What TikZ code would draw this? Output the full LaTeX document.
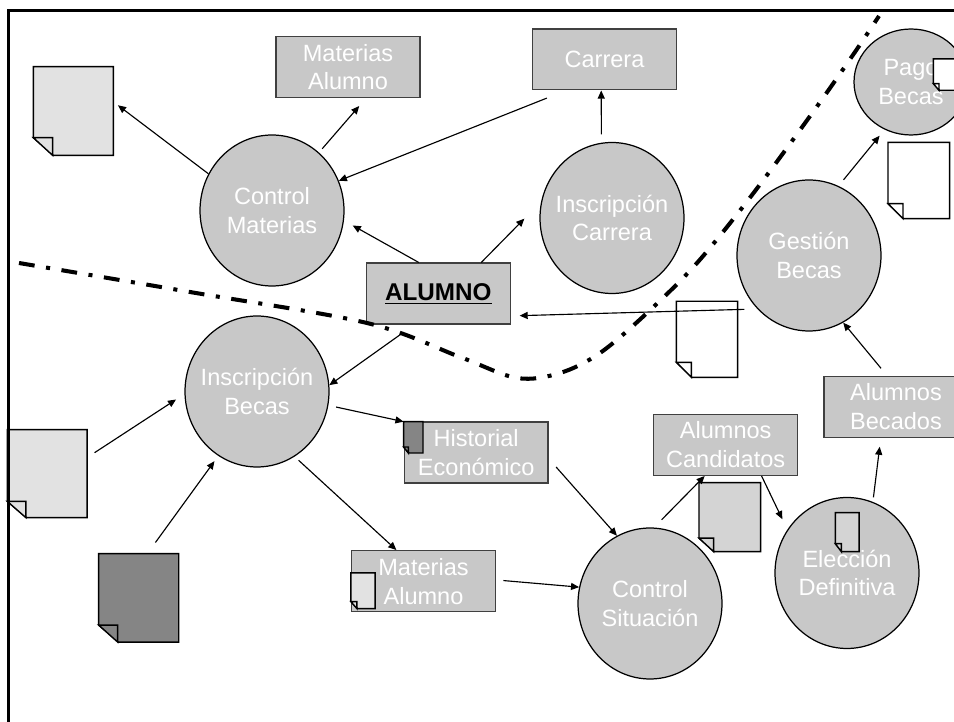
\documentclass[tikz,border=0pt]{standalone}
\usepackage{fontspec}
\setmainfont{Liberation Sans}
\usetikzlibrary{shapes.geometric,arrows.meta}
\definecolor{gris}{HTML}{C8C8C8}
\definecolor{grisclaro}{HTML}{E2E2E2}
\definecolor{grismedio}{HTML}{D4D4D4}
\definecolor{grisoscuro}{HTML}{858585}
\tikzset{
  proceso/.style={ellipse,draw=black,fill=gris,line width=0.7pt,inner sep=-8pt,minimum width=2.88cm,minimum height=3.02cm,text=white,align=center,font=\fontsize{13.4}{16.4}\selectfont},
  almacen/.style={rectangle,draw=black!75,fill=gris,line width=0.8pt,inner sep=0pt,minimum width=2.88cm,minimum height=1.22cm,text=white,align=center,font=\fontsize{13.4}{16.4}\selectfont},
  flujo/.style={-{Triangle[length=4.6pt,width=4pt]},line width=0.65pt},
  frontera/.style={line width=2.3pt,dash pattern=on 9pt off 6.6pt on 2.3pt off 6.6pt}
}
% Hoja con esquina doblada: nombre, centro, ancho, alto, doblez x, doblez y, color
\newcommand{\hoja}[7]{
  \node[inner sep=0pt,minimum width=#3*0.02cm,minimum height=#4*0.02cm] (#1) at (#2) {};
  \draw[line width=0.8pt,fill=#7] (#1.north west) -- (#1.north east) -- (#1.south east) -- ++({#5-#3},0) -- ([yshift=#6*0.02cm]#1.south west) -- cycle;
  \draw[line width=0.8pt,fill=#7] ([yshift=#6*0.02cm]#1.south west) -- ++(#5,0) -- ++(0,#6) -- cycle;
}
\begin{document}
\begin{tikzpicture}[x=0.02cm,y=-0.02cm]
  \clip (0,0) rectangle (954,722);

  % Procesos
  \node[proceso] (ctrlmat) at (272,210.5) {Control\\Materias};
  \node[proceso] (inscar) at (612,218) {Inscripción\\Carrera};
  \node[proceso] (gestion) at (809,255.5) {Gestión\\Becas};
  \node[proceso,minimum width=2.28cm,minimum height=2.12cm] (pago) at (911,82) {Pago\\Becas};
  \node[proceso] (insbec) at (257,391.5) {Inscripción\\Becas};
  \node[proceso] (ctrlsit) at (650,603.5) {Control\\Situación};
  \node[proceso] (eleccion) at (847,573) {Elección\\Definitiva};

  % Almacenes
  \node[almacen] (matalu) at (348,67) {Materias\\Alumno};
  \node[almacen] (carrera) at (604.5,59.3) {Carrera};
  \node[almacen,text=black,font=\fontsize{13.8}{16.4}\selectfont\bfseries] (alumno) at (438.3,293.7) {\underline{ALUMNO}};
  \node[almacen] (historial) at (476.2,452.5) {Historial\\Económico};
  \node[almacen] (matalub) at (423.5,581.2) {Materias\\Alumno};
  \node[almacen] (candidatos) at (725.7,444.8) {Alumnos\\Candidatos};
  \node[almacen] (becados) at (896,406.8) {Alumnos\\Becados};

  % Hojas
  \hoja{hojaa}{73.3,111}{79.3}{88}{19.3}{17.7}{grisclaro}
  \hoja{hojab}{47.2,473.7}{79}{87.3}{18.6}{16.3}{grisclaro}
  \hoja{hojac}{138.7,597.9}{79.3}{87.7}{19}{17}{grisoscuro}
  \hoja{hojad}{918.8,180.5}{61}{75.6}{15}{15}{white}
  \hoja{hojae}{707,339.3}{60.6}{75.3}{15}{15}{white}
  \hoja{hojaf}{947,74.6}{26.6}{30.7}{5.6}{6.7}{white}
  \hoja{hojag}{413.3,437.3}{18.7}{30.7}{4.7}{6}{grisoscuro}
  \hoja{hojah}{363,590.8}{23.4}{35}{6}{7}{grisclaro}
  \hoja{hojai}{729.8,517.2}{61}{68.3}{14.7}{13.6}{grismedio}
  \hoja{hojaj}{847.2,532.2}{23}{38.3}{6}{8}{grismedio}

  % Frontera
  \draw[frontera] plot[smooth,tension=0.55] coordinates {(19,263) (190,292) (367,323) (460,357) (517,378) (560,373) (600,353) (647,313) (697,263) (752,195) (813,112) (855,52) (879,16)};

  % Flujos
  \draw[flujo,shorten >=3.3pt] (ctrlmat.150) -- (hojaa.13.5);
  \draw[flujo,shorten <=2.8pt,shorten >=5.9pt] (ctrlmat.51) -- (matalu.-60);
  \draw[flujo,shorten <=11.7pt] (carrera.219.3) -- (ctrlmat.24.7);
  \draw[flujo,shorten >=5.7pt] (alumno.122) -- (ctrlmat.-8.5);
  \draw[flujo,shorten >=13.6pt] (alumno.36) -- (inscar.167);
  \draw[flujo,shorten <=4.8pt] (inscar.98.4) -- (carrera.-96.6);
  \draw[flujo,shorten <=4.5pt,shorten >=4.5pt] (gestion.67.2) -- (pago.241.7);
  \draw[flujo,shorten <=7.4pt,shorten >=4.9pt] (gestion.226) -- (alumno.-17.4);
  \draw[flujo,shorten <=5.4pt] (becados.106.3) -- (gestion.-63.4);
  \draw[flujo,shorten <=7.6pt] (alumno.232.4) -- (insbec.5.9);
  \draw[flujo,shorten <=5.1pt,shorten >=5.7pt] (hojab.22.8) -- (insbec.182.8);
  \draw[flujo,shorten <=7.9pt,shorten >=3.7pt] (hojac.79.7) -- (insbec.239.3);
  \draw[flujo,shorten <=4.5pt] (insbec.-11.2) -- (historial.157);
  \draw[flujo,shorten <=3.1pt] (insbec.-60) -- (matalub.131.4);
  \draw[flujo,shorten <=6.2pt] (historial.-5.5) -- (ctrlsit.116.3);
  \draw[flujo,shorten <=4.1pt] (matalub.1) -- (ctrlsit.167.9);
  \draw[flujo,shorten <=6.2pt] (ctrlsit.87) -- (candidatos.236.7);
  \draw[flujo,shorten >=6.6pt] (candidatos.-41.7) -- (eleccion.144.1);
  \draw[flujo,shorten <=2.6pt,shorten >=5pt] (eleccion.70) -- (becados.244.6);

  % Marco
  \draw[line width=1.4pt] (8.3,722) -- (8.3,10.3) -- (954,10.3);
\end{tikzpicture}
\end{document}
